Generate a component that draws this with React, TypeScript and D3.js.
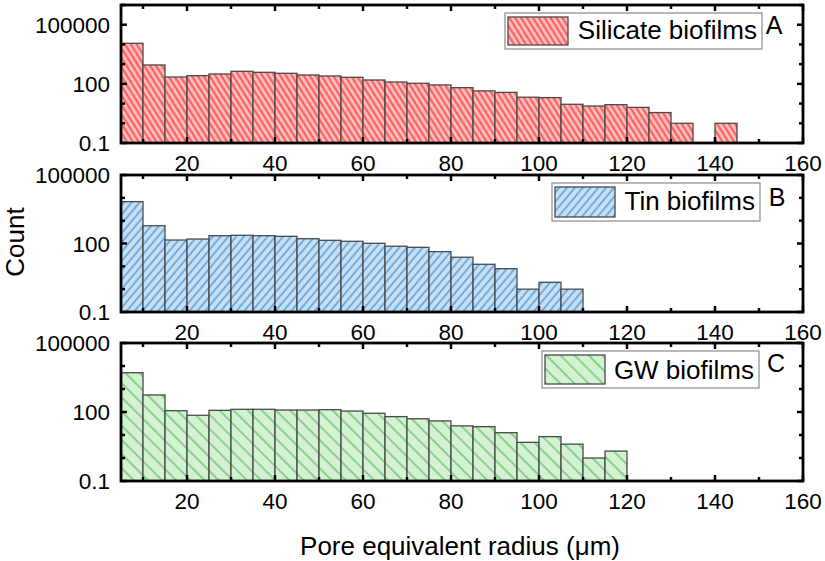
import React from "react";
import * as d3 from "d3";

const binStart = [5, 10, 15, 20, 25, 30, 35, 40, 45, 50, 55, 60, 65, 70, 75, 80, 85, 90, 95, 100, 105, 110, 115, 120, 125, 130, 135, 140];
const binWidth = 5;

const silicate = [11400, 906, 223, 261, 317, 433, 385, 343, 282, 251, 215, 157, 124, 107, 88, 64, 44, 37, 21, 20, 9.2, 7.5, 8.8, 6.4, 3.5, 1, 0, 1];
const tin = [6800, 600, 142, 157, 220, 229, 220, 206, 162, 138, 125, 102, 76, 68, 44, 25, 12.3, 7.9, 1, 2, 1];
const gw = [5100, 550, 114, 72, 118, 131, 131, 122, 122, 126, 110, 88, 63, 51, 41, 25, 23, 12.6, 4.8, 8.5, 4, 1, 2];

const seriesNames = ["Silicate biofilms", "Tin biofilms", "GW biofilms"];
const panelLetters = ["A", "B", "C"];
const yMaxes = [1e6, 1e5, 1e5];
const yLabelTicks = [0.1, 100, 100000];
const xLabelTicks = [20, 40, 60, 80, 100, 120, 140, 160];
const xMinorTicks = [10, 30, 50, 70, 90, 110, 130, 150];

const FONT = "'Liberation Sans', Arial, sans-serif";

const panelsLayout = [
  { top: 5, bottom: 143, legend: { x0: 505, x1: 762, y0: 13, y1: 49, px0: 508, px1: 568, baseline: 39 }, letter: { x: 774, y: 34 } },
  { top: 175, bottom: 312, legend: { x0: 552, x1: 760, y0: 183, y1: 221, px0: 555, px1: 615, baseline: 210 }, letter: { x: 777, y: 206 } },
  { top: 343, bottom: 481, legend: { x0: 542, x1: 759, y0: 351, y1: 388, px0: 545, px1: 605, baseline: 379 }, letter: { x: 776, y: 372 } },
];

const styles = [
  { id: "hatchRed", bg: "#ffc4c4", line: "#ff5050", angle: -32, period: 5, lw: 2 },
  { id: "hatchBlue", bg: "#c8e0f4", line: "#5b9fdc", angle: 40, period: 6, lw: 1.6 },
  { id: "hatchGreen", bg: "#d3f1d3", line: "#62bf62", angle: -45, period: 10, lw: 1.3 },
];

const x = d3.scaleLinear().domain([5, 160]).range([121, 803]);

export default function App() {
  const data = [silicate, tin, gw];
  return (
    <svg width={825} height={561} style={{ position: "absolute", left: 0, top: 0, background: "#fff" }} fontFamily={FONT}>
      <defs>
        {styles.map((s) => (
          <pattern key={s.id} id={s.id} patternUnits="userSpaceOnUse" width={s.period} height={s.period} patternTransform={`rotate(${s.angle})`}>
            <rect width={s.period} height={s.period} fill={s.bg} />
            <line x1={s.period / 2} y1={0} x2={s.period / 2} y2={s.period} stroke={s.line} strokeWidth={s.lw} />
          </pattern>
        ))}
      </defs>
      {panelsLayout.map((p, i) => {
        const y = d3.scaleLog().domain([0.1, yMaxes[i]]).range([p.bottom, p.top]);
        const decades = d3.range(-1, Math.round(Math.log10(yMaxes[i])) + 1).map((e) => Math.pow(10, e));
        const vals = data[i];
        const st = styles[i];
        const L = x.range()[0];
        const R = x.range()[1];
        return (
          <g key={i}>
            {vals.map((v, j) =>
              v > 0 ? (
                <rect
                  key={j}
                  x={x(binStart[j])}
                  y={y(v)}
                  width={x(binStart[j] + binWidth) - x(binStart[j])}
                  height={p.bottom - y(v)}
                  fill={`url(#${st.id})`}
                  stroke="#4a4a4a"
                  strokeWidth={1.3}
                />
              ) : null
            )}
            {/* x ticks */}
            {xLabelTicks.concat(xMinorTicks).map((t) => {
              const major = t % 20 === 0;
              const len = major ? 6 : 4;
              return (
                <g key={"xt" + t}>
                  <line x1={x(t)} x2={x(t)} y1={p.bottom} y2={p.bottom - len} stroke="#000" strokeWidth={2.5} />
                  <line x1={x(t)} x2={x(t)} y1={p.top} y2={p.top + len} stroke="#000" strokeWidth={2.5} />
                </g>
              );
            })}
            {/* y ticks */}
            {decades.map((d) => {
              const major = yLabelTicks.some((t) => Math.abs(Math.log10(t) - Math.log10(d)) < 1e-6);
              const len = major ? 6 : 4;
              return (
                <g key={"yt" + d}>
                  <line x1={L} x2={L + len} y1={y(d)} y2={y(d)} stroke="#000" strokeWidth={2.5} />
                  <line x1={R} x2={R - len} y1={y(d)} y2={y(d)} stroke="#000" strokeWidth={2.5} />
                </g>
              );
            })}
            <rect x={L} y={p.top} width={R - L} height={p.bottom - p.top} fill="none" stroke="#000" strokeWidth={2.8} />
            {yLabelTicks.map((t) => (
              <text key={"yl" + t} x={110} y={y(t)} dy="0.36em" textAnchor="end" fontSize={22.5} fill="#000">
                {String(t)}
              </text>
            ))}
            {xLabelTicks.map((t) => (
              <text key={"xl" + t} x={x(t)} y={p.bottom + 28} textAnchor="middle" fontSize={22.5} fill="#000">
                {t}
              </text>
            ))}
            {/* legend */}
            <rect x={p.legend.x0} y={p.legend.y0} width={p.legend.x1 - p.legend.x0} height={p.legend.y1 - p.legend.y0} fill="#fff" stroke="#8a8a8a" strokeWidth={1.2} />
            <rect x={p.legend.px0} y={p.legend.y0 + 4} width={p.legend.px1 - p.legend.px0} height={p.legend.y1 - p.legend.y0 - 8} fill={`url(#${st.id})`} stroke="#4a4a4a" strokeWidth={1.3} />
            <text x={p.legend.x1 - 5} y={p.legend.baseline} textAnchor="end" fontSize={26} fill="#000">
              {seriesNames[i]}
            </text>
            <text x={p.letter.x} y={p.letter.y} textAnchor="middle" fontSize={25} fill="#000">
              {panelLetters[i]}
            </text>
          </g>
        );
      })}
      <text transform="translate(24,242) rotate(-90)" textAnchor="middle" fontSize={26} fill="#000">
        Count
      </text>
      <text x={460} y={555} textAnchor="middle" fontSize={26} fill="#000">
        Pore equivalent radius (μm)
      </text>
    </svg>
  );
}
